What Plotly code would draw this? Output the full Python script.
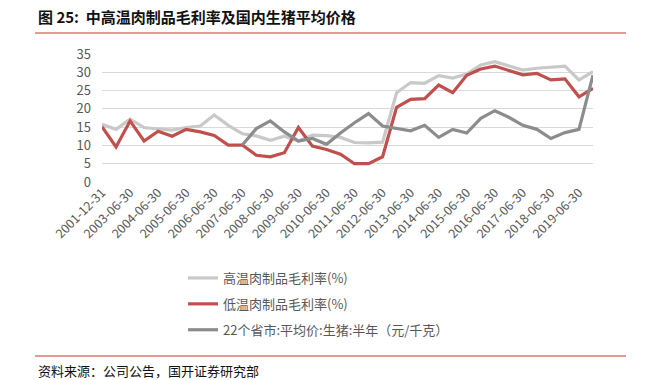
import plotly.graph_objects as go

categories = ["2001-12-31", "2002-12-31"]
for y in range(2003, 2020):
    categories += [f"{y}-06-30", f"{y}-12-31"]

high_temp = [15.8, 14.4, 17.2, 14.9, 14.5, 14.2, 14.9, 15.3, 18.3, 15.5,
             13.2, 12.6, 11.4, 12.5, 11.2, 12.8, 12.7, 12.2, 10.8, 10.7,
             10.9, 24.4, 27.2, 27.0, 29.1, 28.4, 29.5, 32.0, 32.9, 31.8,
             30.6, 31.1, 31.3, 31.7, 27.9, 30.2]
low_temp = [15.1, 9.6, 16.7, 11.2, 13.9, 12.5, 14.4, 13.7, 12.7, 10.1,
            10.1, 7.3, 6.9, 8.0, 14.9, 9.8, 8.9, 7.6, 5.0, 5.0,
            6.9, 20.4, 22.6, 22.8, 26.5, 24.4, 29.2, 30.9, 31.7, 30.6,
            29.3, 29.7, 27.9, 28.2, 23.3, 25.6]
hog_price = [None] * 10 + [10.1, 14.6, 16.7, 13.7, 11.2, 11.9, 10.3, 13.4, 16.2, 18.7,
                           15.3, 14.6, 14.0, 15.5, 12.2, 14.4, 13.4, 17.4, 19.5, 17.7,
                           15.5, 14.4, 11.9, 13.5, 14.4, 29.2]

series_names = ["高温肉制品毛利率(%)", "低温肉制品毛利率(%)", "22个省市:平均价:生猪:半年（元/千克）"]
colors = ["#C9C9C9", "#C0504D", "#8C8C8C"]
tick_vals = categories[0::2]
y_ticks = [0, 5, 10, 15, 20, 25, 30, 35]

FONT = "Noto Sans CJK SC"
W, H = 645, 380
L, R, T, B = 102, 593, 54, 182

fig = go.Figure()
for name, vals, col in zip(series_names, [high_temp, low_temp, hog_price], colors):
    fig.add_trace(go.Scatter(x=categories, y=vals, name=name, mode="lines",
                             line=dict(color=col, width=3.2), legendgroup=name))

def px_x(p):
    return (p - L) / (R - L)

def px_y(p):
    return (B - p) / (B - T)

fig.update_layout(
    width=W, height=H,
    margin=dict(l=L, r=W - R, t=T, b=H - B, pad=0),
    paper_bgcolor="white", plot_bgcolor="white",
    font=dict(family=FONT, color="#595959", size=12),
    showlegend=True,
    legend=dict(x=px_x(183), y=px_y(263), xanchor="left", yanchor="top",
                font=dict(size=13, color="#595959", family=FONT),
                tracegroupgap=6, bgcolor="rgba(0,0,0,0)"),
    xaxis=dict(type="category", tickmode="array", tickvals=tick_vals, ticktext=tick_vals,
               tickangle=-45, tickfont=dict(size=12.5, color="#595959"),
               showgrid=False, showline=False, ticks=""),
    yaxis=dict(range=[0, 35], tickvals=y_ticks, showgrid=True, gridcolor="#D9D9D9",
               gridwidth=1, zeroline=False, showline=False, ticks="",
               tickfont=dict(size=13, color="#595959"), ticklabelstandoff=10),
    annotations=[
        dict(text="<b>图 25:  中高温肉制品毛利率及国内生猪平均价格</b>", xref="paper", yref="paper",
             x=px_x(36), y=px_y(16), xanchor="left", yanchor="middle", showarrow=False,
             font=dict(size=15, color="#111111", family=FONT)),
        dict(text="资料来源：公司公告，国开证券研究部", xref="paper", yref="paper",
             x=px_x(36), y=px_y(370), xanchor="left", yanchor="middle", showarrow=False,
             font=dict(size=13, color="#111111", family=FONT)),
    ],
    shapes=[
        dict(type="line", xref="paper", yref="paper", x0=px_x(35), x1=px_x(626),
             y0=px_y(33), y1=px_y(33), line=dict(color="#C0392B", width=1)),
        dict(type="line", xref="paper", yref="paper", x0=px_x(35), x1=px_x(626),
             y0=px_y(356), y1=px_y(356), line=dict(color="#C0392B", width=1)),
    ],
)

fig.write_html("out.html", config={"displayModeBar": False})
with open("out.html", encoding="utf-8") as f:
    html = f.read()
html = html.replace("<body>", '<body style="margin:0;padding:0;overflow:hidden">', 1)
with open("out.html", "w", encoding="utf-8") as f:
    f.write(html)
